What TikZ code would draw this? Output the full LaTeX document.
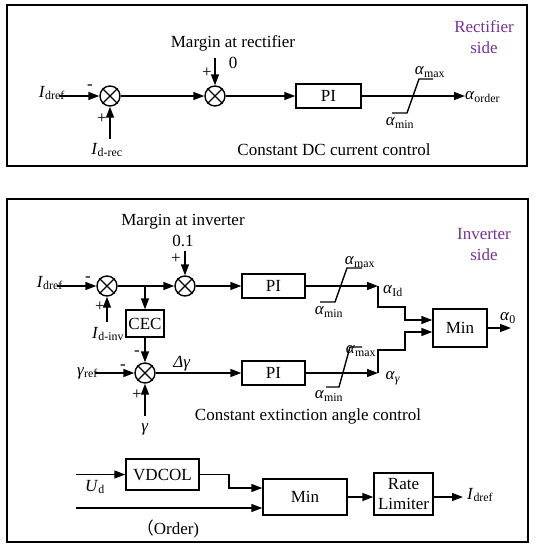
\documentclass[tikz,border=0pt]{standalone}
\usepackage{fontspec}
\setmainfont{Liberation Serif}
\newfontfamily\cjkfont{Noto Sans CJK SC}
\usetikzlibrary{arrows.meta}
\definecolor{sidepurple}{RGB}{120,50,150}
\newcommand{\vsub}[2]{\textit{#1}\textsubscript{#2}}
\begin{document}
\begin{tikzpicture}[x=1pt,y=-1pt,
  frame/.style={draw, line width=2pt},
  ln/.style={line width=1.4pt},
  arr/.style={line width=1.4pt, -{Triangle[length=11pt,width=8pt]}},
  lbl/.style={inner sep=0pt, font=\fontsize{17}{20}\selectfont},
  sidelbl/.style={inner sep=0pt, font=\fontsize{17}{21}\selectfont, text=sidepurple, align=center},
  sumnode/.style={circle, draw, line width=1.4pt, minimum size=20pt, inner sep=0pt},
  blk/.style={draw, rectangle, line width=1.4pt, inner sep=0pt, font=\fontsize{17}{20}\selectfont, align=center}]
\useasboundingbox (0,0) rectangle (536,550);
\draw[frame] (7,5) rectangle (527,166);
\draw[frame] (7,199) rectangle (528,542);

% ---------- Rectifier side ----------
\node[sidelbl] (rside) at (484,37) {Rectifier\\side};
\node[lbl] (mr) at (233,43) {Margin at rectifier};
\node[lbl] (zero) at (233,63) {0};
\node[lbl] (rplus2) at (207,73) {+};
\node[sumnode] (r1) at (110,96) {};
\node[sumnode] (r2) at (215,96) {};
\foreach \s in {r1,r2}{\draw[ln] (\s.north east)--(\s.south west) (\s.north west)--(\s.south east);}
\node[blk, minimum width=65pt, minimum height=24pt] (rpi) at (328.5,96) {PI};
\node[lbl, anchor=east] (ridref) at (65,93) {\vsub{I}{dref}};
\coordinate (rin) at (59,96);
\draw[arr] (rin) -- (r1.west);
\node[lbl] (rminus) at (90,87) {-};
\node[lbl] (rplus1) at (102,119) {+};
\node[lbl] (ridrec) at (107,150) {\vsub{I}{d-rec}};
\coordinate (rb) at (110,139);
\draw[arr] (rb) -- (r1.south);
\coordinate (rt) at (215,58);
\draw[arr] (rt) -- (r2.north);
\draw[arr] (r1.east) -- (r2.west);
\draw[arr] (r2.east) -- (rpi.west);
\node[lbl, anchor=west] (aorder) at (465,97) {\vsub{α}{order}};
\draw[arr] (rpi.east) -- (rpi.east -| aorder.west);
\draw[ln] (392,113) -- (407,113) -- (419,79) -- (433,79);
\node[lbl] (ramax) at (430,72) {\vsub{α}{max}};
\node[lbl] (ramin) at (400,123) {\vsub{α}{min}};
\node[lbl] (rtitle) at (334,150) {Constant DC current control};

% ---------- Inverter side ----------
\node[sidelbl] (iside) at (484,245) {Inverter\\side};
\node[lbl] (mi) at (183,222) {Margin at inverter};
\node[lbl] (p01) at (183,241) {0.1};
\node[lbl] (iplus2) at (176,259) {+};
\node[sumnode] (ia) at (107,286) {};
\node[sumnode] (ib) at (185,286) {};
\node[sumnode] (ic) at (145,373) {};
\foreach \s in {ia,ib,ic}{\draw[ln] (\s.north east)--(\s.south west) (\s.north west)--(\s.south east);}
\node[blk, minimum width=38pt, minimum height=27pt] (cec) at (145,323.5) {CEC};
\node[blk, minimum width=63pt, minimum height=24pt] (ipi1) at (273.5,286) {PI};
\node[blk, minimum width=63pt, minimum height=24pt] (ipi2) at (273.5,373) {PI};
\node[blk, minimum width=54pt, minimum height=38pt] (imin) at (460,328) {Min};

\node[lbl, anchor=east] (iidref) at (63,283) {\vsub{I}{dref}};
\coordinate (iin) at (57,286);
\draw[arr] (iin) -- (ia.west);
\node[lbl] (iminus1) at (88,279) {-};
\node[lbl] (iplus1) at (100,307) {+};
\node[lbl] (iidinv) at (108,334) {\vsub{I}{d-inv}};
\coordinate (ib0) at (107,322);
\draw[arr] (ib0) -- (ia.south);
\coordinate (it) at (185,251);
\draw[arr] (it) -- (ib.north);
\draw[arr] (ia.east) -- (ib.west);
\coordinate (br) at (145,286);
\draw[arr] (br) -- (cec.north);
\draw[arr] (cec.south) -- (ic.north);
\node[lbl] (iminus2) at (137,353) {-};
\node[lbl, anchor=east] (gref) at (98,373) {\vsub{γ}{ref}};
\coordinate (gin) at (95,373);
\draw[arr] (gin) -- (ic.west);
\node[lbl] (iminus3) at (123,367) {-};
\node[lbl] (iplus3) at (137,395) {+};
\node[lbl] (gam) at (145,429) {\textit{γ}};
\coordinate (gb) at (145,416);
\draw[arr] (gb) -- (ic.south);
\node[lbl] (dg) at (182,364) {\textit{Δγ}};
\draw[arr] (ic.east) -- (ipi2.west);
\draw[arr] (ib.east) -- (ipi1.west);

\coordinate (j1) at (378,286);
\coordinate (j2) at (378,373);
\draw[arr] (ipi1.east) -- (j1);
\draw[arr] (ipi2.east) -- (j2);
\draw[arr] (j1) -- (378,307) -- (405,307) -- (405,320) -- ([yshift=8pt]imin.west);
\draw[arr] (j2) -- (378,350) -- (405,350) -- (405,332) -- ([yshift=-4pt]imin.west);
\node[lbl] (aid) at (393,291) {\vsub{α}{Id}};
\node[lbl] (ag) at (393,378) {\textit{α}\textsubscript{\textit{γ}}};

\draw[ln] (320,302) -- (335,302) -- (347,268) -- (362,268);
\node[lbl] (iamax1) at (360,262) {\vsub{α}{max}};
\node[lbl] (iamin1) at (329,312) {\vsub{α}{min}};
\draw[ln] (326,387) -- (339,387) -- (350,347) -- (362,347);
\node[lbl] (iamax2) at (361,351) {\vsub{α}{max}};
\node[lbl] (iamin2) at (329,396) {\vsub{α}{min}};

\node[lbl] (a0) at (508,318) {\vsub{α}{0}};
\coordinate (a0tip) at (511,328);
\draw[arr] (imin.east) -- (a0tip);
\node[lbl] (ictitle) at (308,416) {Constant extinction angle control};

% ---------- Bottom chain ----------
\node[blk, minimum width=73pt, minimum height=31pt] (vd) at (162.5,474.5) {VDCOL};
\node[blk, minimum width=84pt, minimum height=36pt] (bmin) at (305,497) {Min};
\node[blk, minimum width=59pt, minimum height=42pt] (rl) at (403.5,494) {Rate\\Limiter};
\coordinate (ud0) at (76,474.5);
\draw[arr] (ud0) -- (vd.west);
\node[lbl] (ud) at (95,487) {\vsub{U}{d}};
\draw[arr] (vd.east) -- (229,474.5) -- (229,488) -- ([yshift=9pt]bmin.west);
\coordinate (ord0) at (76,508);
\draw[arr] (ord0) -- ([yshift=-11pt]bmin.west);
\node[lbl] (ordl) at (168,529) {{\cjkfont （}Order)};
\draw[arr] (bmin.east) -- (bmin.east -| rl.west);
\node[lbl, anchor=west] (odref) at (467,495) {\vsub{I}{dref}};
\draw[arr] (bmin.east -| rl.east) -- (463,497);
\end{tikzpicture}
\end{document}
